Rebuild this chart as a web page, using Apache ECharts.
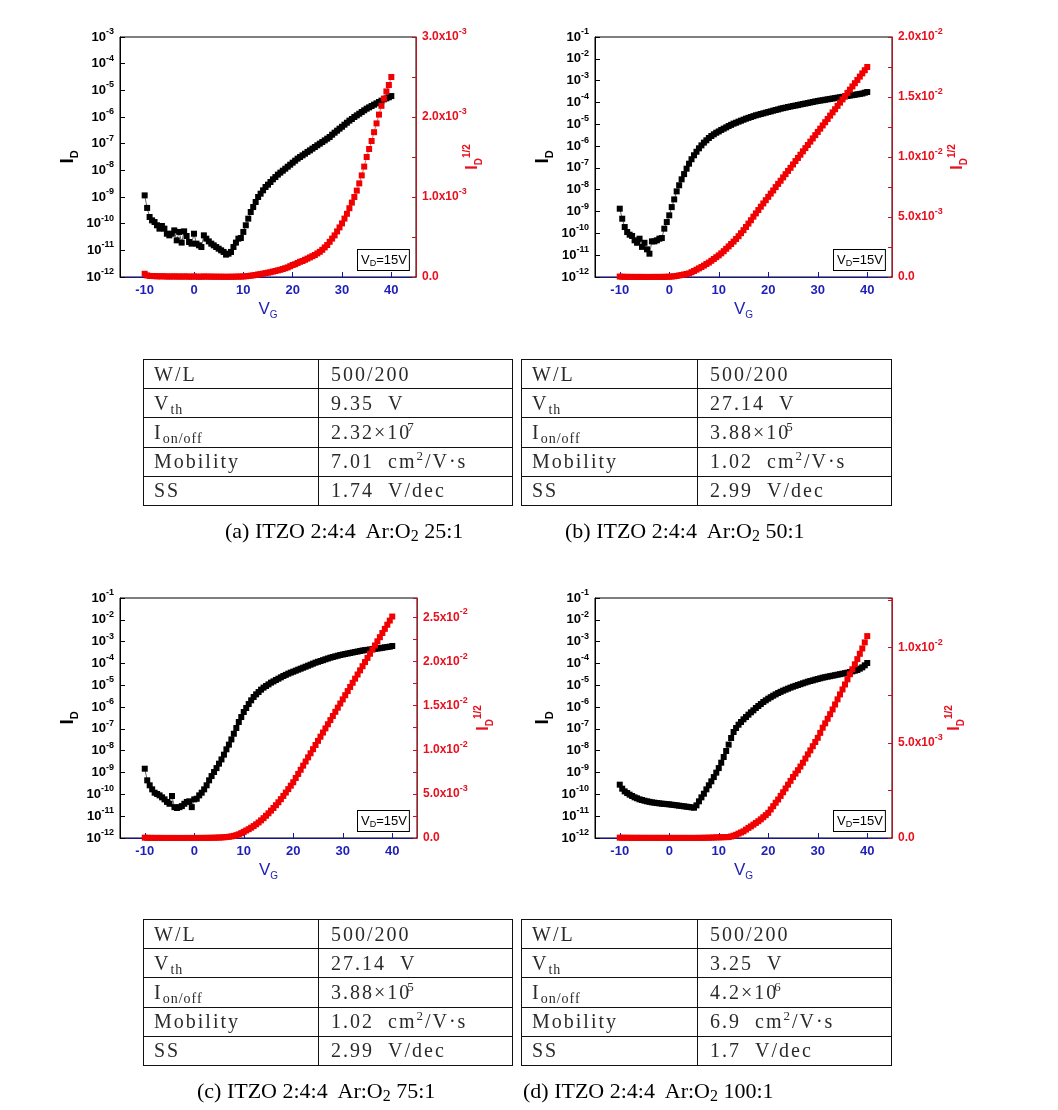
<!DOCTYPE html>
<html><head><meta charset="utf-8">
<script src="https://cdn.jsdelivr.net/npm/echarts@6/dist/echarts.min.js"></script>
<style>
html,body{margin:0;padding:0;background:#fff;}
#wrap{position:relative;width:1058px;height:1110px;overflow:hidden;}
#chart{position:absolute;left:0;top:0;width:1058px;height:1110px;}
table.t{position:absolute;border-collapse:collapse;font-family:"Liberation Serif","Times New Roman",serif;font-size:20px;color:#2a2a2a;letter-spacing:2px;height:147px;table-layout:fixed;}
table.t td{border:1px solid #111;padding:0 0 0 10px;white-space:nowrap;vertical-align:middle;}
table.t td.v{padding-left:12px;}
.sb{font-size:14px;position:relative;top:4px;letter-spacing:1px;}
.sp{font-size:13px;position:relative;top:-8px;margin-left:-4px;}
.cap{position:absolute;font-family:"Liberation Serif","Times New Roman",serif;font-size:22px;color:#000;white-space:nowrap;}
.cap sub{font-size:16px;vertical-align:-3px;line-height:0;}
</style>
</head><body>
<div id="wrap">
<div id="chart"></div>

<table class="t" style="left:143px;top:359px;width:369px">
<colgroup><col style="width:175px"><col style="width:194px"></colgroup>
<tr><td>W/L</td><td class="v">500/200</td></tr>
<tr><td>V<span class="sb">th</span></td><td class="v">9.35&nbsp;&nbsp;V</td></tr>
<tr><td>I<span class="sb">on/off</span></td><td class="v">2.32×10<span class="sp">7</span></td></tr>
<tr><td>Mobility</td><td class="v">7.01&nbsp;&nbsp;cm<span class="sp" style="margin-left:0">2</span>/V·s</td></tr>
<tr><td>SS</td><td class="v">1.74&nbsp;&nbsp;V/dec</td></tr>
</table>
<div class="cap" style="left:225px;top:518px">(a) ITZO 2:4:4&nbsp; Ar:O<sub>2</sub> 25:1</div>

<table class="t" style="left:521px;top:359px;width:370px">
<colgroup><col style="width:176px"><col style="width:194px"></colgroup>
<tr><td>W/L</td><td class="v">500/200</td></tr>
<tr><td>V<span class="sb">th</span></td><td class="v">27.14&nbsp;&nbsp;V</td></tr>
<tr><td>I<span class="sb">on/off</span></td><td class="v">3.88×10<span class="sp">5</span></td></tr>
<tr><td>Mobility</td><td class="v">1.02&nbsp;&nbsp;cm<span class="sp" style="margin-left:0">2</span>/V·s</td></tr>
<tr><td>SS</td><td class="v">2.99&nbsp;&nbsp;V/dec</td></tr>
</table>
<div class="cap" style="left:565px;top:518px">(b) ITZO 2:4:4&nbsp; Ar:O<sub>2</sub> 50:1</div>

<table class="t" style="left:143px;top:919px;width:369px">
<colgroup><col style="width:175px"><col style="width:194px"></colgroup>
<tr><td>W/L</td><td class="v">500/200</td></tr>
<tr><td>V<span class="sb">th</span></td><td class="v">27.14&nbsp;&nbsp;V</td></tr>
<tr><td>I<span class="sb">on/off</span></td><td class="v">3.88×10<span class="sp">5</span></td></tr>
<tr><td>Mobility</td><td class="v">1.02&nbsp;&nbsp;cm<span class="sp" style="margin-left:0">2</span>/V·s</td></tr>
<tr><td>SS</td><td class="v">2.99&nbsp;&nbsp;V/dec</td></tr>
</table>
<div class="cap" style="left:197px;top:1078px">(c) ITZO 2:4:4&nbsp; Ar:O<sub>2</sub> 75:1</div>

<table class="t" style="left:521px;top:919px;width:370px">
<colgroup><col style="width:176px"><col style="width:194px"></colgroup>
<tr><td>W/L</td><td class="v">500/200</td></tr>
<tr><td>V<span class="sb">th</span></td><td class="v">3.25&nbsp;&nbsp;V</td></tr>
<tr><td>I<span class="sb">on/off</span></td><td class="v">4.2×10<span class="sp">6</span></td></tr>
<tr><td>Mobility</td><td class="v">6.9&nbsp;&nbsp;cm<span class="sp" style="margin-left:0">2</span>/V·s</td></tr>
<tr><td>SS</td><td class="v">1.7&nbsp;&nbsp;V/dec</td></tr>
</table>
<div class="cap" style="left:523px;top:1078px">(d) ITZO 2:4:4&nbsp; Ar:O<sub>2</sub> 100:1</div>
</div>

<script>
// ---------------- data ----------------
const VG = [
 -10,-9.5,-9,-8.5,-8,-7.5,-7,-6.5,-6,-5.5,
 -5,-4.5,-4,-3.5,-3,-2.5,-2,-1.5,-1,-0.5,
 0,0.5,1,1.5,2,2.5,3,3.5,4,4.5,
 5,5.5,6,6.5,7,7.5,8,8.5,9,9.5,
 10,10.5,11,11.5,12,12.5,13,13.5,14,14.5,
 15,15.5,16,16.5,17,17.5,18,18.5,19,19.5,
 20,20.5,21,21.5,22,22.5,23,23.5,24,24.5,
 25,25.5,26,26.5,27,27.5,28,28.5,29,29.5,
 30,30.5,31,31.5,32,32.5,33,33.5,34,34.5,
 35,35.5,36,36.5,37,37.5,38,38.5,39,39.5,
 40];

// (a) Ar:O2 25:1
const ID_A = [
 1.15e-9,3.9e-10,1.78e-10,1.33e-10,1.15e-10,8.7e-11,6.5e-11,8.2e-11,6.5e-11,4.2e-11,
 3.65e-11,4.2e-11,5.6e-11,2.37e-11,4.9e-11,1.95e-11,5.15e-11,3.45e-11,2.05e-11,1.78e-11,
 4.2e-11,1.78e-11,1.54e-11,1.33e-11,3.65e-11,2.74e-11,2.17e-11,1.78e-11,1.54e-11,1.33e-11,
 1.15e-11,1.0e-11,8.7e-12,6.9e-12,7.5e-12,8.7e-12,1.33e-11,1.95e-11,2.74e-11,2.9e-11,
 4.9e-11,8.7e-11,1.54e-10,2.74e-10,4.2e-10,6.5e-10,1.0e-9,1.33e-9,1.78e-9,2.37e-9,
 2.9e-9,3.65e-9,4.6e-9,5.6e-9,6.9e-9,8.2e-9,9.7e-9,1.15e-8,1.37e-8,1.63e-8,
 1.94e-8,2.3e-8,2.74e-8,3.16e-8,3.65e-8,4.2e-8,4.9e-8,5.6e-8,6.5e-8,7.5e-8,
 8.7e-8,1.0e-7,1.15e-7,1.33e-7,1.54e-7,1.78e-7,2.17e-7,2.58e-7,3.07e-7,3.65e-7,
 4.3e-7,5.15e-7,6.1e-7,7.3e-7,8.4e-7,1.0e-6,1.15e-6,1.33e-6,1.54e-6,1.78e-6,
 2.05e-6,2.3e-6,2.58e-6,2.9e-6,3.25e-6,3.65e-6,4.1e-6,4.6e-6,5.0e-6,5.5e-6,
 6.1e-6];
const SQ_A = [
 4.0e-5,2.0e-5,1.3e-5,1.2e-5,1.1e-5,9e-6,8e-6,9e-6,8e-6,6.5e-6,
 6e-6,6.5e-6,7.5e-6,5e-6,7e-6,4.5e-6,7e-6,6e-6,4.5e-6,4.2e-6,
 6.5e-6,4.2e-6,4e-6,3.6e-6,6e-6,5.2e-6,4.7e-6,4.2e-6,4e-6,3.6e-6,
 3.4e-6,3.2e-6,3e-6,2.6e-6,2.7e-6,3e-6,3.6e-6,4.4e-6,5.2e-6,5.4e-6,
 7e-6,9.3e-6,1.24e-5,1.66e-5,2.05e-5,2.55e-5,3.16e-5,3.65e-5,4.2e-5,4.87e-5,
 5.4e-5,6.0e-5,6.8e-5,7.5e-5,8.3e-5,9.0e-5,1.0e-4,1.1e-4,1.2e-4,1.35e-4,
 1.5e-4,1.6e-4,1.75e-4,1.9e-4,2.0e-4,2.15e-4,2.3e-4,2.45e-4,2.6e-4,2.75e-4,
 2.95e-4,3.15e-4,3.4e-4,3.7e-4,4.0e-4,4.4e-4,4.8e-4,5.2e-4,5.7e-4,6.2e-4,
 6.7e-4,7.3e-4,7.9e-4,8.6e-4,9.3e-4,1.0e-3,1.08e-3,1.17e-3,1.27e-3,1.38e-3,
 1.5e-3,1.6e-3,1.7e-3,1.81e-3,1.92e-3,2.03e-3,2.14e-3,2.23e-3,2.32e-3,2.4e-3,
 2.5e-3];

// (b) Ar:O2 50:1
const ID_B = [
 1.35e-9,4.7e-10,1.95e-10,1.15e-10,8.7e-11,7.6e-11,4.8e-11,3.7e-11,5.7e-11,2.4e-11,
 3.7e-11,1.85e-11,1.17e-11,4.3e-11,4.3e-11,4.8e-11,5.7e-11,6.1e-11,1.64e-10,3.3e-10,
 6.7e-10,1.6e-9,3.6e-9,8.4e-9,1.6e-8,3.0e-8,5.2e-8,9.2e-8,1.56e-7,2.5e-7,
 3.8e-7,5.5e-7,7.9e-7,1.08e-6,1.44e-6,1.84e-6,2.35e-6,2.9e-6,3.46e-6,4.1e-6,
 4.7e-6,5.5e-6,6.3e-6,7.2e-6,8.3e-6,9.4e-6,1.07e-5,1.18e-5,1.32e-5,1.46e-5,
 1.62e-5,1.8e-5,1.97e-5,2.15e-5,2.35e-5,2.57e-5,2.75e-5,2.95e-5,3.17e-5,3.4e-5,
 3.65e-5,3.9e-5,4.2e-5,4.5e-5,4.8e-5,5.2e-5,5.5e-5,5.8e-5,6.2e-5,6.5e-5,
 6.9e-5,7.2e-5,7.6e-5,8.05e-5,8.5e-5,8.95e-5,9.4e-5,9.95e-5,1.05e-4,1.11e-4,
 1.17e-4,1.22e-4,1.27e-4,1.33e-4,1.39e-4,1.45e-4,1.52e-4,1.58e-4,1.66e-4,1.73e-4,
 1.81e-4,1.89e-4,1.98e-4,2.07e-4,2.16e-4,2.25e-4,2.35e-4,2.46e-4,2.57e-4,2.8e-4,
 3.0e-4];
const SQ_B = [
 3.7e-5,2.2e-5,1.4e-5,1.1e-5,9e-6,9e-6,7e-6,6e-6,8e-6,5e-6,
 6e-6,4e-6,3e-6,7e-6,7e-6,7e-6,8e-6,8e-6,1.3e-5,1.8e-5,
 2.6e-5,4e-5,6e-5,9e-5,1.3e-4,1.7e-4,2.1e-4,2.5e-4,3.0e-4,4.0e-4,
 5.0e-4,6.1e-4,7.2e-4,8.3e-4,9.5e-4,1.08e-3,1.2e-3,1.35e-3,1.5e-3,1.65e-3,
 1.8e-3,1.97e-3,2.15e-3,2.35e-3,2.55e-3,2.75e-3,2.95e-3,3.17e-3,3.4e-3,3.65e-3,
 3.9e-3,4.17e-3,4.45e-3,4.73e-3,5.03e-3,5.3e-3,5.58e-3,5.86e-3,6.13e-3,6.4e-3,
 6.68e-3,6.95e-3,7.21e-3,7.49e-3,7.76e-3,8.02e-3,8.3e-3,8.57e-3,8.84e-3,9.1e-3,
 9.38e-3,9.66e-3,9.92e-3,1.019e-2,1.047e-2,1.074e-2,1.1e-2,1.128e-2,1.155e-2,1.182e-2,
 1.209e-2,1.236e-2,1.263e-2,1.29e-2,1.317e-2,1.345e-2,1.372e-2,1.398e-2,1.426e-2,1.453e-2,
 1.48e-2,1.507e-2,1.534e-2,1.561e-2,1.588e-2,1.615e-2,1.642e-2,1.67e-2,1.697e-2,1.723e-2,
 1.75e-2];

// (c) Ar:O2 75:1
const ID_C = [
 1.5e-9,4.4e-10,2.6e-10,1.7e-10,1.19e-10,1.04e-10,9.0e-11,7.3e-11,5.9e-11,4.5e-11,
 3.7e-11,8.4e-11,2.6e-11,2.37e-11,2.6e-11,2.9e-11,3.7e-11,4.5e-11,4.8e-11,2.6e-11,
 5.9e-11,6.3e-11,9.0e-11,1.19e-10,1.7e-10,2.6e-10,4.4e-10,6.9e-10,1.06e-9,1.6e-9,
 2.55e-9,4.0e-9,6.6e-9,1.16e-8,1.9e-8,3.3e-8,6.0e-8,1.1e-7,2.07e-7,3.5e-7,
 5.95e-7,9.1e-7,1.38e-6,2.04e-6,2.9e-6,3.84e-6,4.9e-6,6.3e-6,7.8e-6,9.25e-6,
 1.1e-5,1.32e-5,1.51e-5,1.74e-5,2.0e-5,2.31e-5,2.66e-5,3.0e-5,3.4e-5,3.8e-5,
 4.2e-5,4.67e-5,5.2e-5,5.77e-5,6.4e-5,7.1e-5,7.9e-5,8.8e-5,9.8e-5,1.09e-4,
 1.19e-4,1.29e-4,1.41e-4,1.55e-4,1.69e-4,1.84e-4,1.98e-4,2.12e-4,2.27e-4,2.44e-4,
 2.57e-4,2.71e-4,2.86e-4,3.01e-4,3.18e-4,3.35e-4,3.53e-4,3.72e-4,3.93e-4,4.06e-4,
 4.2e-4,4.36e-4,4.52e-4,4.68e-4,4.84e-4,5.0e-4,5.2e-4,5.48e-4,5.67e-4,5.87e-4,
 6.3e-4];
const SQ_C = [
 3.9e-5,2.1e-5,1.6e-5,1.3e-5,1.1e-5,1.0e-5,9.5e-6,8.5e-6,7.7e-6,6.7e-6,
 6e-6,9e-6,5e-6,4.9e-6,5.1e-6,5.4e-6,6e-6,6.7e-6,7e-6,5e-6,
 7.7e-6,8e-6,9.5e-6,1.1e-5,1.3e-5,1.6e-5,2.1e-5,2.6e-5,3.3e-5,4.0e-5,
 5.0e-5,6.3e-5,8.1e-5,1.08e-4,1.38e-4,1.8e-4,2.4e-4,3.2e-4,4.2e-4,5.5e-4,
 7.0e-4,8.5e-4,1.0e-3,1.17e-3,1.35e-3,1.55e-3,1.76e-3,2.0e-3,2.25e-3,2.52e-3,
 2.8e-3,3.1e-3,3.4e-3,3.72e-3,4.05e-3,4.4e-3,4.77e-3,5.15e-3,5.54e-3,5.93e-3,
 6.32e-3,6.8e-3,7.26e-3,7.73e-3,8.2e-3,8.67e-3,9.14e-3,9.6e-3,1.007e-2,1.054e-2,
 1.101e-2,1.148e-2,1.195e-2,1.242e-2,1.289e-2,1.336e-2,1.383e-2,1.43e-2,1.477e-2,1.524e-2,
 1.571e-2,1.618e-2,1.665e-2,1.712e-2,1.759e-2,1.806e-2,1.853e-2,1.9e-2,1.947e-2,1.994e-2,
 2.041e-2,2.088e-2,2.135e-2,2.182e-2,2.229e-2,2.276e-2,2.323e-2,2.37e-2,2.417e-2,2.464e-2,
 2.51e-2];

// (d) Ar:O2 100:1
const ID_D = [
 2.78e-10,1.82e-10,1.37e-10,1.15e-10,9.7e-11,8.4e-11,7.3e-11,6.6e-11,5.9e-11,5.5e-11,
 5.1e-11,4.8e-11,4.54e-11,4.3e-11,4.16e-11,4.0e-11,3.87e-11,3.74e-11,3.67e-11,3.57e-11,
 3.48e-11,3.36e-11,3.25e-11,3.14e-11,3.03e-11,2.92e-11,2.82e-11,2.73e-11,2.63e-11,2.54e-11,
 2.45e-11,3.14e-11,4.8e-11,7.3e-11,1.07e-10,1.7e-10,2.6e-10,3.95e-10,6.2e-10,9.9e-10,
 1.6e-9,2.83e-9,5.15e-9,9.7e-9,1.9e-8,3.83e-8,7.2e-8,1.1e-7,1.56e-7,2.07e-7,
 2.75e-7,3.5e-7,4.5e-7,5.75e-7,7.1e-7,9.1e-7,1.12e-6,1.38e-6,1.71e-6,2.04e-6,
 2.43e-6,2.85e-6,3.33e-6,3.84e-6,4.42e-6,5.0e-6,5.65e-6,6.3e-6,7.0e-6,7.8e-6,
 8.6e-6,9.4e-6,1.03e-5,1.12e-5,1.23e-5,1.34e-5,1.46e-5,1.57e-5,1.68e-5,1.81e-5,
 1.94e-5,2.08e-5,2.23e-5,2.35e-5,2.48e-5,2.61e-5,2.75e-5,2.9e-5,3.06e-5,3.23e-5,
 3.4e-5,3.59e-5,3.78e-5,4.06e-5,4.35e-5,4.67e-5,5.0e-5,5.77e-5,6.64e-5,8.2e-5,
 1.05e-4];
const SQ_D = [
 1.67e-5,1.35e-5,1.17e-5,1.07e-5,9.8e-6,9.2e-6,8.5e-6,8.1e-6,7.7e-6,7.4e-6,
 7.1e-6,6.9e-6,6.7e-6,6.6e-6,6.4e-6,6.3e-6,6.2e-6,6.1e-6,6.1e-6,6.0e-6,
 5.9e-6,5.8e-6,5.7e-6,5.6e-6,5.5e-6,5.4e-6,5.3e-6,5.2e-6,5.1e-6,5.0e-6,
 4.9e-6,5.6e-6,6.9e-6,8.5e-6,1.03e-5,1.3e-5,1.6e-5,2.0e-5,2.5e-5,3.1e-5,
 3.4e-5,3.8e-5,4.2e-5,4.6e-5,5.0e-5,8.0e-5,1.2e-4,1.7e-4,2.3e-4,2.9e-4,
 3.5e-4,4.4e-4,5.3e-4,6.1e-4,7.0e-4,7.9e-4,8.8e-4,9.8e-4,1.09e-3,1.2e-3,
 1.32e-3,1.5e-3,1.67e-3,1.85e-3,2.02e-3,2.21e-3,2.4e-3,2.6e-3,2.8e-3,3.0e-3,
 3.2e-3,3.38e-3,3.56e-3,3.75e-3,3.95e-3,4.17e-3,4.39e-3,4.6e-3,4.82e-3,5.04e-3,
 5.26e-3,5.52e-3,5.79e-3,6.02e-3,6.26e-3,6.5e-3,6.75e-3,7.01e-3,7.28e-3,7.54e-3,
 7.8e-3,8.06e-3,8.33e-3,8.6e-3,8.86e-3,9.12e-3,9.39e-3,9.67e-3,9.95e-3,1.027e-2,
 1.06e-2];

const X_TICKS = [-10, 0, 10, 20, 30, 40];
const LOG_TICKS_A = [1e-12,1e-11,1e-10,1e-9,1e-8,1e-7,1e-6,1e-5,1e-4,1e-3];
const LOG_TICKS_BCD = [1e-12,1e-11,1e-10,1e-9,1e-8,1e-7,1e-6,1e-5,1e-4,1e-3,1e-2,1e-1];

// ---------------- chart ----------------
const FONT = '"Liberation Sans", Arial, sans-serif';
const BLUE = '#1e1eb8', BLUELINE = '#1414a0';
const RED = '#e8101e', REDLINE = '#c81020';

const panels = [
  {grid:{left:120, top:37, width:296, height:240}, id:ID_A, sq:SQ_A, lmax:1e-3, lticks:LOG_TICKS_A,
   rmax:3e-3, rstep:0.5e-3, rlab:1e-3, gapR:46, box:[358,250]},
  {grid:{left:595, top:37, width:297, height:240}, id:ID_B, sq:SQ_B, lmax:1e-1, lticks:LOG_TICKS_BCD,
   rmax:2e-2, rstep:2.5e-3, rlab:5e-3, gapR:55, box:[834,250]},
  {grid:{left:120, top:598, width:297, height:240}, id:ID_C, sq:SQ_C, lmax:1e-1, lticks:LOG_TICKS_BCD,
   rmax:2.72e-2, rstep:2.5e-3, rlab:5e-3, gapR:56, box:[358,811]},
  {grid:{left:595, top:598, width:297, height:240}, id:ID_D, sq:SQ_D, lmax:1e-1, lticks:LOG_TICKS_BCD,
   rmax:1.26e-2, rstep:2.5e-3, rlab:5e-3, gapR:52, box:[834,811]}
];

function rightFormatter(labStep) {
  return function (v) {
    if (Math.abs(v) < 1e-15) return '0.0';
    const k = v / labStep;
    if (Math.abs(k - Math.round(k)) > 1e-6) return '';
    const e = Math.floor(Math.log10(v) + 1e-9);
    const m = v / Math.pow(10, e);
    return m.toFixed(1) + 'x10{s|' + e + '}';
  };
}

const supRich = {s: {fontSize: 9, fontWeight: 'bold', fontFamily: FONT, lineHeight: 9, verticalAlign: 'top'}};

const option = {
  backgroundColor: '#fff',
  animation: false,
  grid: [], xAxis: [], yAxis: [], series: [], graphic: []
};

panels.forEach((p, i) => {
  option.grid.push(Object.assign({show: true, borderColor: '#000', borderWidth: 1, containLabel: false}, p.grid));
  option.xAxis.push({
    type: 'value', gridIndex: i, min: -15, max: 45, position: 'bottom',
    axisLine: {show: true, onZero: false, lineStyle: {color: BLUELINE, width: 1}},
    axisTick: {show: true, inside: true, length: 5, customValues: X_TICKS, lineStyle: {color: BLUELINE}},
    axisLabel: {customValues: X_TICKS, color: BLUE, fontWeight: 'bold', fontSize: 13, fontFamily: FONT, margin: 7},
    splitLine: {show: false},
    name: 'V{g|G}', nameLocation: 'middle', nameGap: 21, nameMoveOverlap: false,
    nameTextStyle: {color: BLUE, fontSize: 17, fontFamily: FONT, lineHeight: 22,
      rich: {g: {fontSize: 10, color: BLUE, fontFamily: FONT, lineHeight: 10, verticalAlign: 'bottom'}}}
  });
  option.yAxis.push({
    type: 'log', logBase: 10, gridIndex: i, min: 1e-12, max: p.lmax, position: 'left',
    axisLine: {show: true, onZero: false, lineStyle: {color: '#000', width: 1}},
    axisTick: {show: true, inside: true, length: 5, customValues: p.lticks, lineStyle: {color: '#000'}},
    axisLabel: {customValues: p.lticks, color: '#000', fontWeight: 'bold', fontSize: 13, fontFamily: FONT,
      lineHeight: 20, margin: 6,
      formatter: v => '10{s|' + Math.round(Math.log10(v)) + '}', rich: supRich},
    splitLine: {show: false},
    name: 'I{d|D}', nameLocation: 'middle', nameGap: 40, nameRotate: 90,
    nameTextStyle: {color: '#000', fontSize: 19, fontWeight: 'bold', fontFamily: FONT, lineHeight: 24,
      rich: {d: {fontSize: 11, fontWeight: 'bold', fontFamily: FONT, lineHeight: 11, verticalAlign: 'bottom'}}}
  });
  option.yAxis.push({
    type: 'value', gridIndex: i, min: 0, max: p.rmax, interval: p.rstep, position: 'right',
    axisLine: {show: true, onZero: false, lineStyle: {color: REDLINE, width: 1}},
    axisTick: {show: true, inside: true, length: 4, lineStyle: {color: REDLINE}},
    axisLabel: {color: RED, fontWeight: 'bold', fontSize: 12, fontFamily: FONT, lineHeight: 20, margin: 6,
      formatter: rightFormatter(p.rlab),
      rich: {s: {fontSize: 9, fontWeight: 'bold', color: RED, fontFamily: FONT, lineHeight: 9, verticalAlign: 'top'}}},
    splitLine: {show: false},
    name: 'I{d|D}{u|1/2}', nameLocation: 'middle', nameGap: p.gapR, nameRotate: 90, nameMoveOverlap: false,
    nameTextStyle: {color: RED, fontSize: 16, fontWeight: 'bold', fontFamily: FONT, lineHeight: 22,
      rich: {d: {fontSize: 10, fontWeight: 'bold', color: RED, fontFamily: FONT, lineHeight: 10, verticalAlign: 'bottom'},
             u: {fontSize: 10, fontWeight: 'bold', color: RED, fontFamily: FONT, lineHeight: 10, verticalAlign: 'top'}}}
  });
  option.series.push({
    type: 'line', xAxisIndex: i, yAxisIndex: 2 * i,
    data: VG.map((v, k) => [v, p.id[k]]),
    symbol: 'rect', symbolSize: 6, showAllSymbol: true,
    lineStyle: {color: '#000', width: 0.6}, itemStyle: {color: '#000'}, z: 2
  });
  option.series.push({
    type: 'line', xAxisIndex: i, yAxisIndex: 2 * i + 1,
    data: VG.map((v, k) => [v, p.sq[k]]),
    symbol: 'rect', symbolSize: 6, showAllSymbol: true,
    lineStyle: {color: '#f00000', width: 0.6}, itemStyle: {color: '#f00000'}, z: 3
  });
  option.graphic.push({
    type: 'text', x: p.box[0], y: p.box[1], z: 100,
    style: {
      text: 'V{s|D}=15V', fill: '#000', fontSize: 13, fontFamily: FONT, lineHeight: 15,
      rich: {s: {fontSize: 9, fontFamily: FONT, lineHeight: 9, verticalAlign: 'bottom', fill: '#000'}},
      backgroundColor: '#fff', borderColor: '#000', borderWidth: 1, padding: [3, 2, 2, 3]
    }
  });
});

const chart = echarts.init(document.getElementById('chart'));
chart.setOption(option);
</script>
</body></html>
